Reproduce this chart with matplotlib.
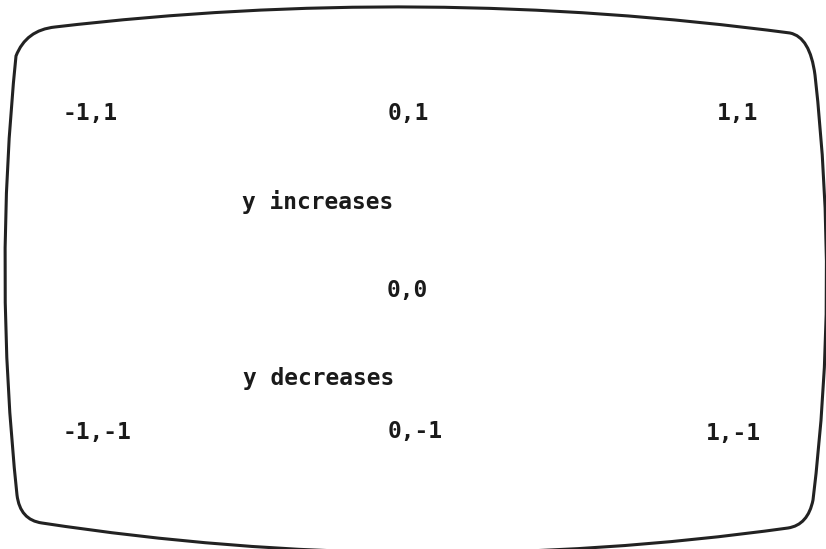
import matplotlib
matplotlib.use('Agg')
import matplotlib.pyplot as plt
from matplotlib.path import Path
from matplotlib.patches import PathPatch

# screen labels (text) and where they sit, in pixel coords of the picture
labels = ['-1,1', '0,1', '1,1',
          'y increases',
          '0,0',
          'y decreases',
          '-1,-1', '0,-1', '1,-1']
label_x = [63, 388, 717, 242, 387, 243, 63, 388, 706]
label_y = [120, 120, 120, 209, 297, 385, 439, 438, 440]

# outline of the screen (bulged rectangle with rounded corners)
screen_pts = [(16, 56), (26, 30), (55, 27), (420, -16), (790, 33),
              (810, 37), (815, 75), (839, 288), (813, 500),
              (808, 525), (788, 528), (415, 580), (42, 523),
              (20, 520), (17, 495), (-6.5, 275), (16, 56), (16, 56)]
screen_codes = [Path.MOVETO] + [Path.CURVE3] * 16 + [Path.CLOSEPOLY]

fig = plt.figure(figsize=(8.26, 5.49), dpi=100, facecolor='white')
ax = fig.add_axes([0, 0, 1, 1])
ax.set_xlim(0, 826)
ax.set_ylim(549, 0)
ax.axis('off')

screen = PathPatch(Path(screen_pts, screen_codes), facecolor='none',
                   edgecolor='#222222', lw=2.2, clip_on=False)
ax.add_patch(screen)

for txt, x, y in zip(labels, label_x, label_y):
    ax.text(x, y, txt, ha='left', va='baseline', fontsize=16.5,
            family='DejaVu Sans Mono', fontweight='bold', color='#1a1a1a')

plt.savefig('out.png', dpi=100, facecolor='white')
